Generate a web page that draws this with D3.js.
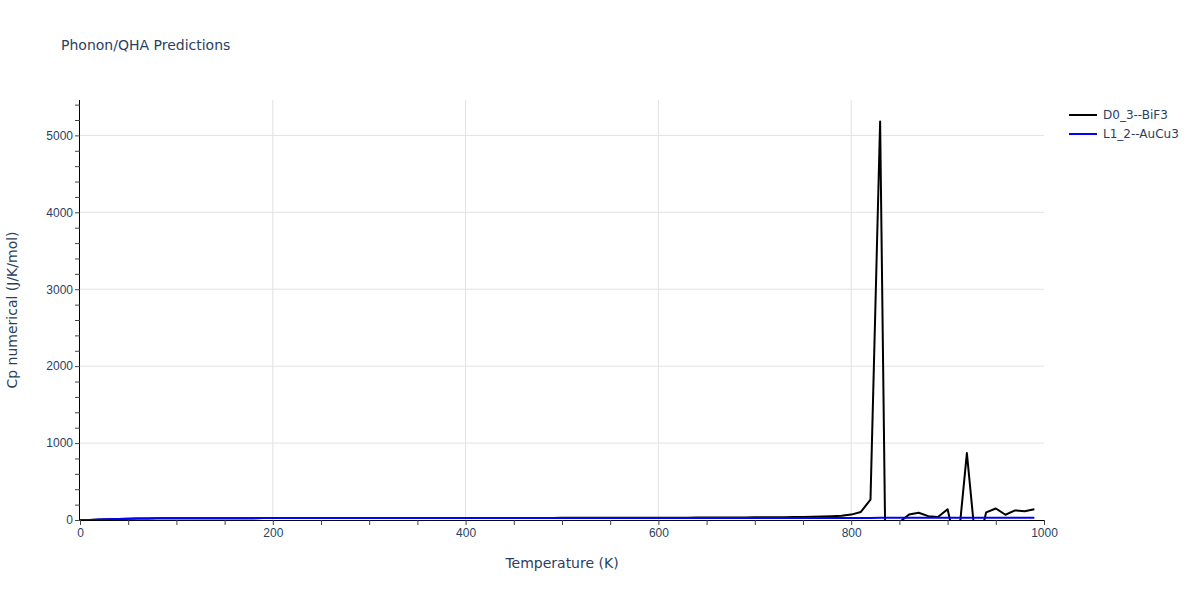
<!DOCTYPE html>
<html>
<head>
<meta charset="utf-8">
<script src="https://cdn.jsdelivr.net/npm/d3@7"></script>
<style>
  body { margin: 0; background: #fff; }
  svg { font-family: "DejaVu Sans", Verdana, sans-serif; }
</style>
</head>
<body>
<svg id="chart" width="1200" height="600"></svg>
<script>
// ---- Data ----
const temperatures = d3.range(0, 1000, 10); // 0..990 K
const bif3Values = [
  0, 1, 5, 10, 14, 17, 19, 20.5, 21.5, 22.3, 22.8, 23.2, 23.5, 23.7, 23.9, 24, 24.1, 24.2, 24.3, 24.4,
  24.5, 24.6, 24.7, 24.8, 24.9, 25, 25.1, 25.2, 25.3, 25.4, 25.5, 25.6, 25.7, 25.8, 25.9, 26, 26.1, 26.2, 26.3, 26.4,
  26.5, 26.6, 26.7, 26.8, 27, 27.1, 27.2, 27.3, 27.5, 27.6, 27.8, 28, 28.1, 28.3, 28.5, 28.7, 28.9, 29.1, 29.3, 29.6,
  29.9, 30.2, 30.5, 30.8, 31.2, 31.6, 32, 32.5, 33, 33.6, 34.3, 35, 36, 37, 38.5, 40, 42, 45, 49, 55,
  70, 105, 265, 5180, -5000, -30, 72, 95, 50, 40, 140, -420, 870, -430, 100, 150, 68, 125, 115, 140
];
const aucu3Values = [
  0, 1, 5, 10, 14, 17, 19, 20.5, 21.5, 22.3, 22.8, 23.2, 23.5, 23.7, 23.9, 24, 24.1, 24.2, 24.3, 24.4,
  24.5, 24.55, 24.6, 24.65, 24.7, 24.75, 24.8, 24.85, 24.9, 24.95, 25, 25.05, 25.1, 25.15, 25.2, 25.25, 25.3, 25.35, 25.4, 25.45,
  25.5, 25.55, 25.6, 25.65, 25.7, 25.75, 25.8, 25.85, 25.9, 25.95, 26, 26.05, 26.1, 26.15, 26.2, 26.25, 26.3, 26.35, 26.4, 26.45,
  26.5, 26.55, 26.6, 26.65, 26.7, 26.75, 26.8, 26.85, 26.9, 26.95, 27, 27.05, 27.1, 27.15, 27.2, 27.25, 27.3, 27.35, 27.4, 27.45,
  27.5, 27.55, 27.6, 27.65, 27.7, 27.75, 27.8, 27.85, 27.9, 27.95, 28, 28.05, 28.1, 28.15, 28.2, 28.25, 28.3, 28.35, 28.4, 28.45
];
const seriesNames = ["D0_3--BiF3", "L1_2--AuCu3"];
const seriesColors = ["#000000", "#0000ff"];
const xTickLabels = [0, 200, 400, 600, 800, 1000];
const yTickLabels = [0, 1000, 2000, 3000, 4000, 5000];

const titleText = "Phonon/QHA Predictions";
const xTitle = "Temperature (K)";
const yTitle = "Cp numerical (J/K/mol)";

(function () {
// ---- Layout ----
const svg = d3.select("#chart");
const pL = 80, pR = 1044, pT = 100, pB = 520;
const textColor = "#2a3f5f";

const x = d3.scaleLinear().domain([0, 1000]).range([pL, pR]);
const y = d3.scaleLinear().domain([0, 5460]).range([pB, pT]);

svg.append("defs").append("clipPath").attr("id", "clip")
  .append("rect").attr("x", pL).attr("y", pT).attr("width", pR - pL).attr("height", pB - pT);

// Grid
const grid = svg.append("g");
grid.selectAll(".vg").data(xTickLabels.filter(d => d > 0 && d < 1000)).enter().append("line")
  .attr("x1", d => x(d)).attr("x2", d => x(d)).attr("y1", pT).attr("y2", pB)
  .attr("stroke", "#e2e2e2").attr("stroke-width", 1);
grid.selectAll(".hg").data(yTickLabels.filter(d => d > 0)).enter().append("line")
  .attr("x1", pL).attr("x2", pR).attr("y1", d => y(d)).attr("y2", d => y(d))
  .attr("stroke", "#e2e2e2").attr("stroke-width", 1);

// Axes
const xAxis = d3.axisBottom(x).tickValues(d3.range(0, 1001, 50)).tickSize(5)
  .tickFormat(d => xTickLabels.includes(d) ? d : "");
const gx = svg.append("g").attr("transform", `translate(0,${pB})`).call(xAxis);
gx.select(".domain").attr("stroke", "#000").attr("d", `M${pL},0.5H${pR}`);
gx.selectAll(".tick line").attr("stroke", "#444");
gx.selectAll(".tick text").attr("fill", textColor).style("font-size", "12px").attr("dy", "0.9em").attr("y", 6);

const yAxis = d3.axisLeft(y).tickValues(d3.range(0, 5401, 200)).tickSize(5)
  .tickFormat(d => yTickLabels.includes(d) ? d : "");
const gy = svg.append("g").attr("transform", `translate(${pL},0)`).call(yAxis);
gy.select(".domain").attr("stroke", "#000").attr("d", `M-0.5,${pT}V${pB}`);
gy.selectAll(".tick line").attr("stroke", "#444");
gy.selectAll(".tick text").attr("fill", textColor).style("font-size", "12px").attr("x", -7);

// Lines
const line = d3.line().x((d, i) => x(temperatures[i])).y(d => y(d));
const plot = svg.append("g").attr("clip-path", "url(#clip)");
[bif3Values, aucu3Values].forEach((vals, k) => {
  plot.append("path").datum(vals)
    .attr("d", line)
    .attr("fill", "none")
    .attr("stroke", seriesColors[k])
    .attr("stroke-width", 2)
    .attr("stroke-linejoin", "round");
});

// Titles
svg.append("text").attr("x", 61).attr("y", 50).text(titleText)
  .attr("fill", textColor).style("font-size", "14px");
svg.append("text").attr("x", (pL + pR) / 2).attr("y", 568).attr("text-anchor", "middle")
  .text(xTitle).attr("fill", textColor).style("font-size", "14px");
svg.append("text").attr("transform", `translate(17,${(pT + pB) / 2}) rotate(-90)`)
  .attr("text-anchor", "middle").text(yTitle).attr("fill", textColor).style("font-size", "14px");

// Legend
const legend = svg.append("g");
seriesNames.forEach((name, i) => {
  const ly = 115 + i * 19;
  legend.append("line").attr("x1", 1069).attr("x2", 1097).attr("y1", ly).attr("y2", ly)
    .attr("stroke", seriesColors[i]).attr("stroke-width", 2);
  legend.append("text").attr("x", 1103).attr("y", ly + 4).text(name)
    .attr("fill", textColor).style("font-size", "12px");
});
})();
</script>
</body>
</html>
